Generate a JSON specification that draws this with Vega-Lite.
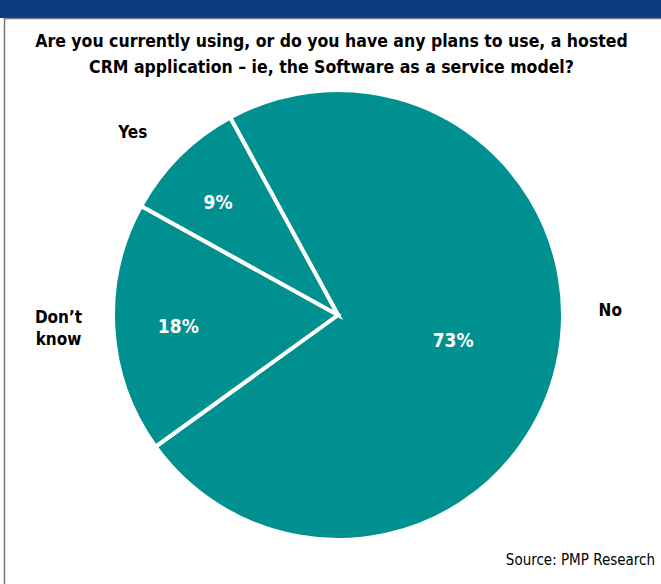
{
  "$schema": "https://vega.github.io/schema/vega-lite/v6.json",
  "width": 646,
  "height": 538,
  "autosize": {"type": "none"},
  "padding": {"left": 15, "right": 0, "top": 46, "bottom": 0},
  "background": "white",
  "config": {"view": {"stroke": null}, "font": "DejaVu Sans Condensed, sans-serif"},
  "title": {
    "text": ["Are you currently using, or do you have any plans to use, a hosted", "CRM application \u2013 ie, the Software as a service model?"],
    "fontSize": 17.5,
    "lineHeight": 26,
    "fontWeight": "bold",
    "color": "#000000",
    "anchor": "middle",
    "frame": "group",
    "baseline": "alphabetic",
    "dx": -6.5,
    "offset": -90,
    "font": "DejaVu Sans Condensed, sans-serif"
  },
  "data": {
    "values": [
      {"rank": 1, "category": "No", "share": 73, "pctLabel": "73%"},
      {"rank": 2, "category": "Don\u2019t\nknow", "share": 18, "pctLabel": "18%"},
      {"rank": 3, "category": "Yes", "share": 9, "pctLabel": "9%"}
    ]
  },
  "layer": [
    {
      "data": {"values": [{}]},
      "mark": {"type": "rect", "x": -15, "x2": {"expr": "width"}, "y": -46, "y2": -28, "fill": "#0d3a7e"},
      "encoding": {}
    },
    {
      "data": {"values": [{}]},
      "mark": {"type": "rect", "x": -10.5, "x2": {"expr": "width + 5"}, "y": -27.5, "y2": {"expr": "height + 5"}, "fill": null, "stroke": "#777777", "strokeWidth": 1.5},
      "encoding": {}
    },
    {
      "mark": {"type": "arc", "radius": 225, "fill": "#009090", "stroke": "white", "strokeWidth": 4},
      "encoding": {
        "theta": {"field": "share", "type": "quantitative", "stack": true, "scale": {"domain": [0, 100], "range": [-0.4997, 5.7835]}},
        "order": {"field": "rank", "type": "quantitative"}
      }
    },
    {
      "mark": {"type": "text", "radius": 118, "fontSize": 19, "fontWeight": "bold", "fill": "white", "align": "center", "baseline": "middle"},
      "encoding": {
        "theta": {"field": "share", "type": "quantitative", "stack": true, "scale": {"domain": [0, 100], "range": [-0.4997, 5.7835]}},
        "order": {"field": "rank", "type": "quantitative"},
        "text": {"condition": {"test": "datum.rank == 1", "field": "pctLabel"}, "value": ""}
      }
    },
    {
      "mark": {"type": "text", "radius": 163, "dx": 3, "dy": 2, "fontSize": 19, "fontWeight": "bold", "fill": "white", "align": "center", "baseline": "middle"},
      "encoding": {
        "theta": {"field": "share", "type": "quantitative", "stack": true, "scale": {"domain": [0, 100], "range": [-0.4997, 5.7835]}},
        "order": {"field": "rank", "type": "quantitative"},
        "text": {"condition": {"test": "datum.rank == 2", "field": "pctLabel"}, "value": ""}
      }
    },
    {
      "mark": {"type": "text", "radius": 163, "dx": -5, "dy": 4, "fontSize": 19, "fontWeight": "bold", "fill": "white", "align": "center", "baseline": "middle"},
      "encoding": {
        "theta": {"field": "share", "type": "quantitative", "stack": true, "scale": {"domain": [0, 100], "range": [-0.4997, 5.7835]}},
        "order": {"field": "rank", "type": "quantitative"},
        "text": {"condition": {"test": "datum.rank == 3", "field": "pctLabel"}, "value": ""}
      }
    },
    {
      "mark": {"type": "text", "radius": 272, "dx": 7, "dy": -64, "fontSize": 17, "fontWeight": "bold", "fill": "black", "align": "center", "baseline": "middle"},
      "encoding": {
        "theta": {"field": "share", "type": "quantitative", "stack": true, "scale": {"domain": [0, 100], "range": [-0.4997, 5.7835]}},
        "order": {"field": "rank", "type": "quantitative"},
        "text": {"condition": {"test": "datum.rank == 1", "field": "category"}, "value": ""}
      }
    },
    {
      "mark": {"type": "text", "radius": 283, "dx": 3, "dy": -14, "fontSize": 17, "fontWeight": "bold", "fill": "black", "align": "center", "baseline": "middle", "lineBreak": "\n", "lineHeight": 22},
      "encoding": {
        "theta": {"field": "share", "type": "quantitative", "stack": true, "scale": {"domain": [0, 100], "range": [-0.4997, 5.7835]}},
        "order": {"field": "rank", "type": "quantitative"},
        "text": {"condition": {"test": "datum.rank == 2", "field": "category"}, "value": ""}
      }
    },
    {
      "mark": {"type": "text", "radius": 274, "dx": -12, "dy": 12, "fontSize": 17, "fontWeight": "bold", "fill": "black", "align": "center", "baseline": "middle"},
      "encoding": {
        "theta": {"field": "share", "type": "quantitative", "stack": true, "scale": {"domain": [0, 100], "range": [-0.4997, 5.7835]}},
        "order": {"field": "rank", "type": "quantitative"},
        "text": {"condition": {"test": "datum.rank == 3", "field": "category"}, "value": ""}
      }
    },
    {
      "data": {"values": [{}]},
      "mark": {"type": "text", "text": "Source: PMP Research", "x": {"expr": "width - 6"}, "y": {"expr": "height - 19"}, "align": "right", "baseline": "alphabetic", "fontSize": 15, "fontWeight": "normal", "fill": "black"},
      "encoding": {}
    }
  ]
}
